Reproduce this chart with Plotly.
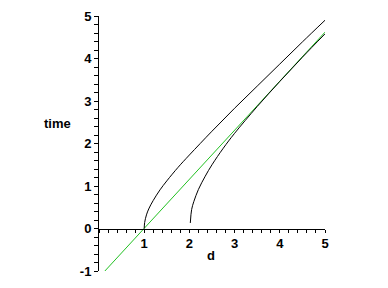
import plotly.graph_objects as go

# Curve 1 (black, starts at d=1)
d1 = [1.0, 1.01, 1.05, 1.1, 1.2, 1.35, 1.5, 1.75, 2.0, 2.5, 3.0, 3.5, 4.0, 4.5, 5.0]
t1 = [0.0, 0.14, 0.32, 0.46, 0.66, 0.91, 1.12, 1.44, 1.73, 2.29, 2.83, 3.35, 3.87, 4.39, 4.9]
# Curve 2 (black, starts at d=2)
d2 = [2.02, 2.05, 2.1, 2.2, 2.35, 2.5, 2.75, 3.0, 3.5, 4.0, 4.5, 5.0]
t2 = [0.13, 0.45, 0.64, 0.92, 1.23, 1.5, 1.89, 2.24, 2.87, 3.46, 4.03, 4.58]
# Green straight line
d3 = [0.13, 5.0]
t3 = [-1.0, 4.62]

x_labels = {1: "1", 2: "2", 3: "3", 4: "4", 5: "5"}
y_labels = {-1: "-1", 0: "0", 1: "1", 2: "2", 3: "3", 4: "4", 5: "5"}
x_label = "d"
y_label = "time"

W, H = 388, 288
L, R, T, B = 99, 63, 9, 9
pw, ph = W - L - R, H - T - B

def px_to_paper(px, py):
    return (px - L) / pw, (H - B - py) / ph

# tick marks every 0.2, labelled only at integers
x_tv = [round(i * 0.2, 2) for i in range(0, 26)]
y_tv = [round(-1 + i * 0.2, 2) for i in range(0, 31)]
x_tt = [x_labels.get(int(round(v)), "") if abs(v - round(v)) < 1e-9 else "" for v in x_tv]
y_tt = [y_labels.get(int(round(v)), "") if abs(v - round(v)) < 1e-9 else "" for v in y_tv]

fig = go.Figure()
fig.add_trace(go.Scatter(x=d3, y=t3, mode="lines", line=dict(color="#22c022", width=1)))
fig.add_trace(go.Scatter(x=d1, y=t1, mode="lines", line=dict(color="black", width=1, shape="spline")))
fig.add_trace(go.Scatter(x=d2, y=t2, mode="lines", line=dict(color="black", width=1, shape="spline")))

tickfont = dict(family="Liberation Sans", size=13, color="black", weight="bold")

fig.update_layout(
    width=W, height=H,
    margin=dict(l=L, r=R, t=T, b=B),
    paper_bgcolor="white", plot_bgcolor="white",
    showlegend=False,
    xaxis=dict(range=[0, 5], tickmode="array", tickvals=x_tv, ticktext=x_tt,
               ticks="outside", ticklen=3, tickwidth=1,
               tickcolor="black", showline=True, linecolor="black", linewidth=1,
               showgrid=False, zeroline=False, anchor="free", position=1/6,
               tickfont=tickfont),
    yaxis=dict(range=[-1, 5], tickmode="array", tickvals=y_tv, ticktext=y_tt,
               ticks="outside", ticklen=4, tickwidth=1,
               tickcolor="black", showline=True, linecolor="black", linewidth=1,
               showgrid=False, zeroline=False, tickfont=tickfont),
)
xa, ya = px_to_paper(211, 263)
xb, yb = px_to_paper(57, 123)
fig.add_annotation(text=x_label, x=xa, y=ya, xref="paper", yref="paper", showarrow=False,
                   font=tickfont, xanchor="center", yanchor="middle")
fig.add_annotation(text=y_label, x=xb, y=yb, xref="paper", yref="paper", showarrow=False,
                   font=tickfont, xanchor="center", yanchor="middle")
fig.write_html("out.html")
